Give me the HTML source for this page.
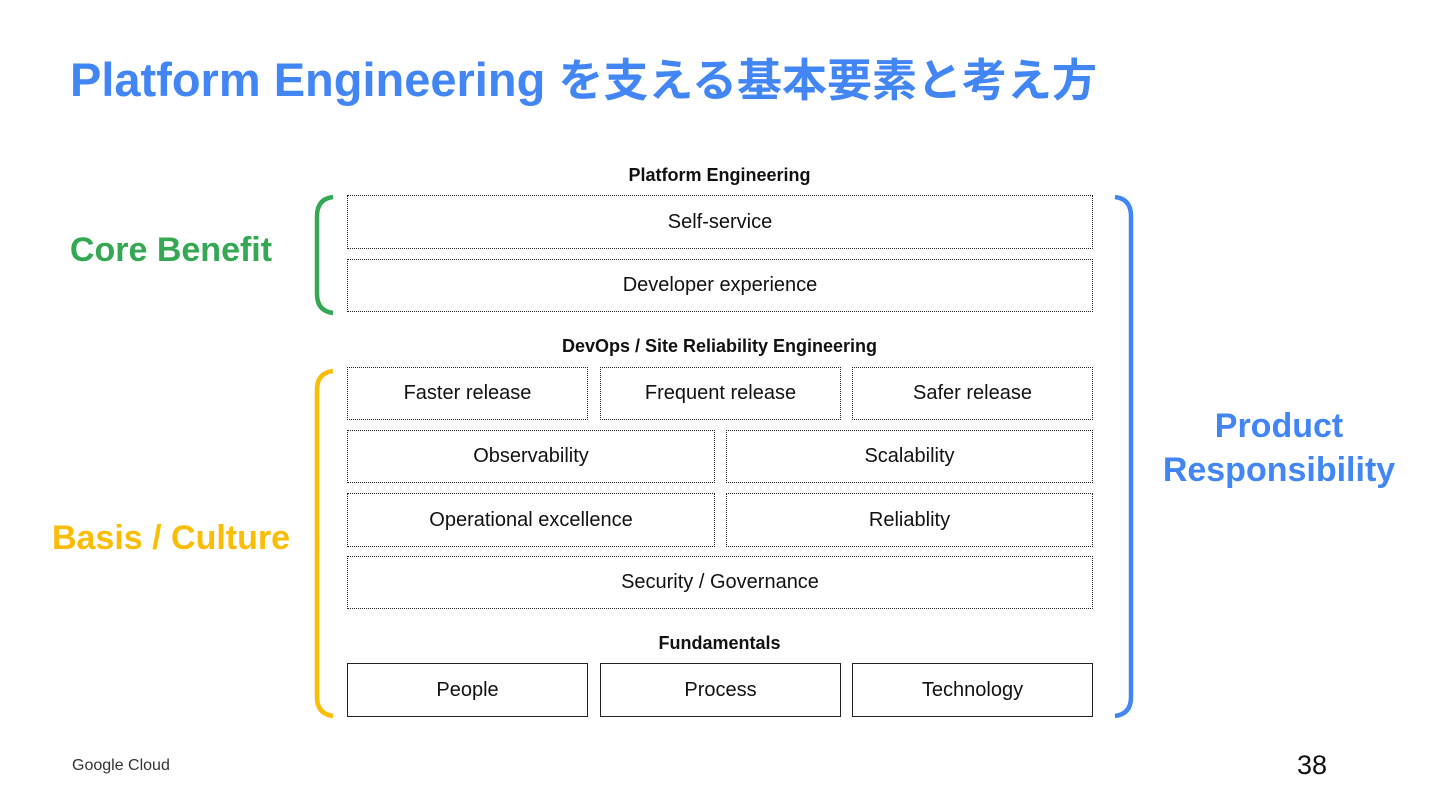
<!DOCTYPE html>
<html><head><meta charset="utf-8"><style>
body{margin:0;width:1440px;height:810px;background:#fff;position:relative;overflow:hidden;font-family:"Liberation Sans","Noto Sans CJK JP",sans-serif}
.a{position:absolute}
.b{position:absolute;border:1.5px dotted #222;box-sizing:border-box;display:flex;align-items:center;justify-content:center;font-size:20px;color:#111}
.s{border:1px solid #222}
.h{position:absolute;left:347px;width:745px;text-align:center;font-weight:bold;font-size:18px;color:#111}
.lab{position:absolute;font-weight:bold;font-size:34px;text-align:center}
</style></head><body>
<div class="a" style="left:70px;top:50px;color:#4285F4;font-weight:bold;font-size:47px;white-space:nowrap;line-height:60px">Platform Engineering <span style="font-size:45px;letter-spacing:0px">を支える基本要素と考え方</span></div>

<div class="h" style="top:165px">Platform Engineering</div>
<div class="b" style="left:347px;top:195px;width:746px;height:54px">Self-service</div>
<div class="b" style="left:347px;top:259px;width:746px;height:53px">Developer experience</div>

<div class="h" style="top:336px">DevOps / Site Reliability Engineering</div>
<div class="b" style="left:347px;top:367px;width:241px;height:53px">Faster release</div>
<div class="b" style="left:600px;top:367px;width:241px;height:53px">Frequent release</div>
<div class="b" style="left:852px;top:367px;width:241px;height:53px">Safer release</div>
<div class="b" style="left:347px;top:430px;width:368px;height:53px">Observability</div>
<div class="b" style="left:726px;top:430px;width:367px;height:53px">Scalability</div>
<div class="b" style="left:347px;top:493px;width:368px;height:54px">Operational excellence</div>
<div class="b" style="left:726px;top:493px;width:367px;height:54px">Reliablity</div>
<div class="b" style="left:347px;top:556px;width:746px;height:53px">Security / Governance</div>

<div class="h" style="top:633px">Fundamentals</div>
<div class="b s" style="left:347px;top:663px;width:241px;height:54px">People</div>
<div class="b s" style="left:600px;top:663px;width:241px;height:54px">Process</div>
<div class="b s" style="left:852px;top:663px;width:241px;height:54px">Technology</div>

<svg class="a" style="left:0;top:0" width="1440" height="810">
<path d="M333 197 Q317 199 317 216 L317 294 Q317 311 333 313" fill="none" stroke="#34A853" stroke-width="4.5"/>
<path d="M333 371 Q317 373 317 390 L317 697 Q317 714 333 716" fill="none" stroke="#FBBC04" stroke-width="4.5"/>
<path d="M1115 197 Q1131 199 1131 216 L1131 697 Q1131 714 1115 716" fill="none" stroke="#4285F4" stroke-width="4.5"/>
</svg>

<div class="lab" style="left:30px;top:231px;width:282px;color:#34A853">Core Benefit</div>
<div class="lab" style="left:30px;top:519px;width:282px;color:#FBBC04">Basis / Culture</div>
<div class="lab" style="left:1130px;top:404px;width:298px;color:#4285F4;line-height:44px">Product<br>Responsibility</div>

<div class="a" style="left:72px;top:757px;font-size:16px;color:#333">Google Cloud</div>
<div class="a" style="left:1297px;top:750px;font-size:27px;color:#111">38</div>
</body></html>
